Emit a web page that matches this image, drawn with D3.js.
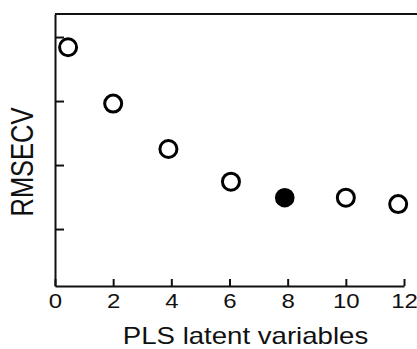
<!DOCTYPE html>
<html>
<head>
<meta charset="utf-8">
<script src="https://cdn.jsdelivr.net/npm/d3@7"></script>
<style>
  body { margin: 0; background: #fff; }
  svg { display: block; font-family: "Liberation Sans", Arial, sans-serif; }
</style>
</head>
<body>
<svg></svg>
<script>
//Data (y axis has no labels, so arbitrary units)
const latentVars = [0.45, 2.0, 3.9, 6.05, 7.9, 10.0, 11.8];
const rmsecv = [3.84, 2.96, 2.25, 1.74, 1.49, 1.49, 1.39];
const chosen = [false, false, false, false, true, false, false];
const xTicks = [0, 2, 4, 6, 8, 10, 12];
const yTicks = [1, 2, 3, 4];

const w = 417;
const h = 349;
const stretch = 1.2; //source picture is stretched sideways

const svg = d3.select("svg").attr("width", w).attr("height", h);

const xScale = d3.scaleLinear().domain([0, 12]).range([55, 404]);
const yScale = d3.scaleLinear().domain([0.11, 4.36]).range([286, 14]);

//Axes
const xAxis = d3.axisBottom(xScale)
                .tickValues(xTicks)
                .tickSizeInner(-7)
                .tickSizeOuter(0)
                .tickPadding(8);
const gx = svg.append("g")
              .attr("transform", `translate(0, ${yScale.range()[0]})`)
              .call(xAxis);

const yAxis = d3.axisLeft(yScale)
                .tickValues(yTicks)
                .tickSizeInner(-9)
                .tickSizeOuter(0)
                .tickFormat("");
const gy = svg.append("g")
              .attr("transform", `translate(${xScale.range()[0]}, 0)`)
              .call(yAxis);

[gx, gy].forEach(g => {
  g.select(".domain").attr("stroke", "#111").attr("stroke-width", 2);
  g.selectAll(".tick line").attr("stroke", "#111").attr("stroke-width", 2);
});

gx.attr("font-size", 20).attr("font-family", "Liberation Sans, Arial, sans-serif");
gx.selectAll(".tick text")
  .attr("fill", "#111")
  .attr("transform", `scale(${stretch}, 1)`);

//Top frame line
svg.append("line")
   .attr("x1", xScale(0))
   .attr("x2", w)
   .attr("y1", yScale.range()[1])
   .attr("y2", yScale.range()[1])
   .attr("stroke", "#111")
   .attr("stroke-width", 2);

//Points
svg.append("g")
   .selectAll("circle")
   .data(latentVars)
   .enter()
   .append("circle")
   .attr("cx", (d) => xScale(d))
   .attr("cy", (d, i) => yScale(rmsecv[i]))
   .attr("r", (d, i) => chosen[i] ? 9.8 : 8.5)
   .attr("fill", (d, i) => chosen[i] ? "#000" : "#fff")
   .attr("stroke", (d, i) => chosen[i] ? "none" : "#000")
   .attr("stroke-width", 3);

//Labels
svg.append("text")
   .attr("transform", `translate(${(55 + 436) / 2}, 344) scale(${stretch}, 1)`)
   .attr("text-anchor", "middle")
   .attr("font-size", 23)
   .attr("fill", "#111")
   .text("PLS latent variables");

svg.append("text")
   .attr("transform", `translate(33, 162) scale(${stretch}, 1) rotate(-90)`)
   .attr("text-anchor", "middle")
   .attr("font-size", 25.5)
   .attr("fill", "#111")
   .text("RMSECV");
</script>
</body>
</html>
